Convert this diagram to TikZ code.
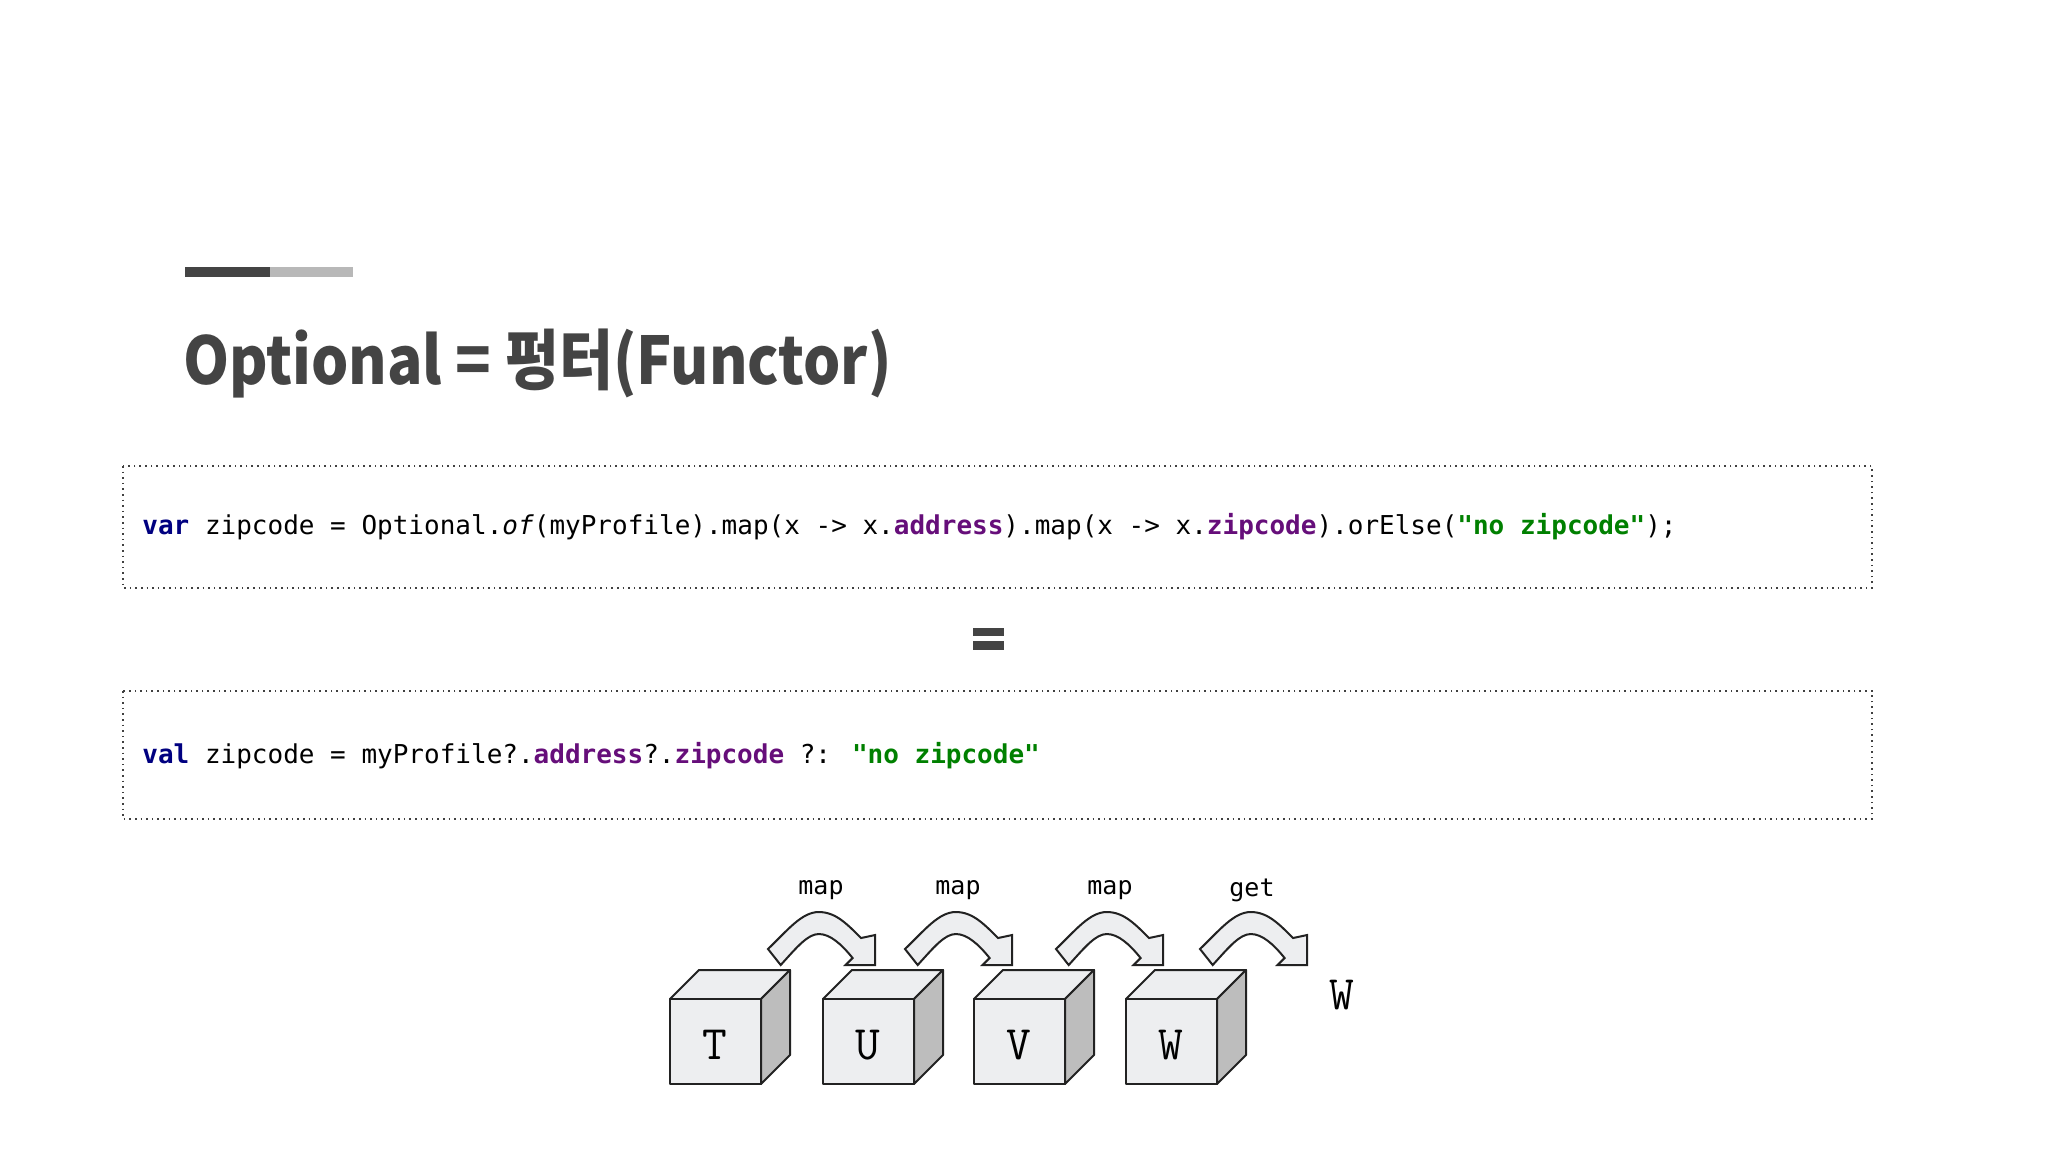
\documentclass[tikz,border=0pt]{standalone}
\usepackage{fontspec}
\usepackage{graphicx}
\newfontfamily\kr{Noto Sans CJK KR}
\newfontfamily\codefont{DejaVu Sans Mono}
\definecolor{kw}{HTML}{000080}
\definecolor{fld}{HTML}{660E7A}
\definecolor{strg}{HTML}{008000}
\definecolor{ttl}{HTML}{444444}
\definecolor{face}{HTML}{EDEEF0}
\definecolor{side}{HTML}{BDBDBD}
\definecolor{edge}{HTML}{222222}
\tikzset{
 codebox/.style={draw=black!75, dotted, line width=0.8pt},
 codetext/.style={anchor=west, inner sep=0, font=\codefont\fontsize{13}{15}\selectfont},
 cubeline/.style={draw=edge, line width=1pt, line join=round},
 letter/.style={font=\ttfamily\fontsize{24}{26}\selectfont, inner sep=0},
 lbl/.style={font=\codefont\fontsize{12.5}{14}\selectfont, inner sep=0},
 bentarrow/.style={fill=face, draw=edge, line width=1pt, line join=miter}
}
\begin{document}
\begin{tikzpicture}[x=0.5pt,y=-0.5pt]
\useasboundingbox (0,0) rectangle (2048,1152);
\fill[white] (0,0) rectangle (2048,1152);
% header bar
\fill[ttl] (185,267) rectangle (270,277);
\fill[black!28] (270,267) rectangle (353,277);
\node[anchor=north west, inner sep=0, text=ttl] (title) at (183,329)
 {\resizebox*{354pt}{34.6pt}{\kr\bfseries Optional = 펑터(Functor)}};
% code boxes
\draw[codebox] (123,466) rectangle (1872,588);
\node[codetext] (code1) at (142,527) {\textcolor{kw}{\bfseries var} zipcode = Optional.\textit{of}(myProfile).map(x -> x.\textcolor{fld}{\bfseries address}).map(x -> x.\textcolor{fld}{\bfseries zipcode}).orElse(\textcolor{strg}{\bfseries "no zipcode"});};
\fill[ttl] (973,628) rectangle (1004,636);
\fill[ttl] (973,641) rectangle (1004,650);
\draw[codebox] (123,691) rectangle (1872,819);
\node[codetext] (code2) at (142,756) {\textcolor{kw}{\bfseries val} zipcode = myProfile?.\textcolor{fld}{\bfseries address}?.\textcolor{fld}{\bfseries zipcode} ?: \textcolor{strg}{\bfseries "no zipcode"}};
% cubes
\foreach \x/\t/\n in {670/T/ct,823/U/cu,974/V/cv,1126/W/cw}{
 \begin{scope}[shift={(\x,999)}]
  \filldraw[cubeline, fill=face] (0,0) -- (29,-29) -- (120,-29) -- (91,0) -- cycle;
  \filldraw[cubeline, fill=side] (91,0) -- (120,-29) -- (120,56) -- (91,85) -- cycle;
  \filldraw[cubeline, fill=face] (0,0) rectangle (91,85);
  \node[letter] (\n) at (45,46) {\t};
 \end{scope}
}
% bent arrows
\foreach \x in {768,905,1056,1200}{
 \begin{scope}[shift={(\x,912)}, xscale=1.41]
  \draw[bentarrow] (0,37) .. controls (14,18) and (24,0) .. (36,0)
   .. controls (48,0) and (56,12) .. (66,26) -- (76,23) -- (76,53) -- (55,53) -- (60,46)
   .. controls (52,32) and (44,22) .. (36,22)
   .. controls (28,22) and (20,36) .. (9,53) -- cycle;
 \end{scope}
}
\node[lbl] (l1) at (821,890) {map};
\node[lbl] (l2) at (958,890) {map};
\node[lbl] (l3) at (1110,890) {map};
\node[lbl] (l4) at (1252,890) {get};
\node[letter] (wout) at (1342,995) {W};
\end{tikzpicture}
\end{document}
